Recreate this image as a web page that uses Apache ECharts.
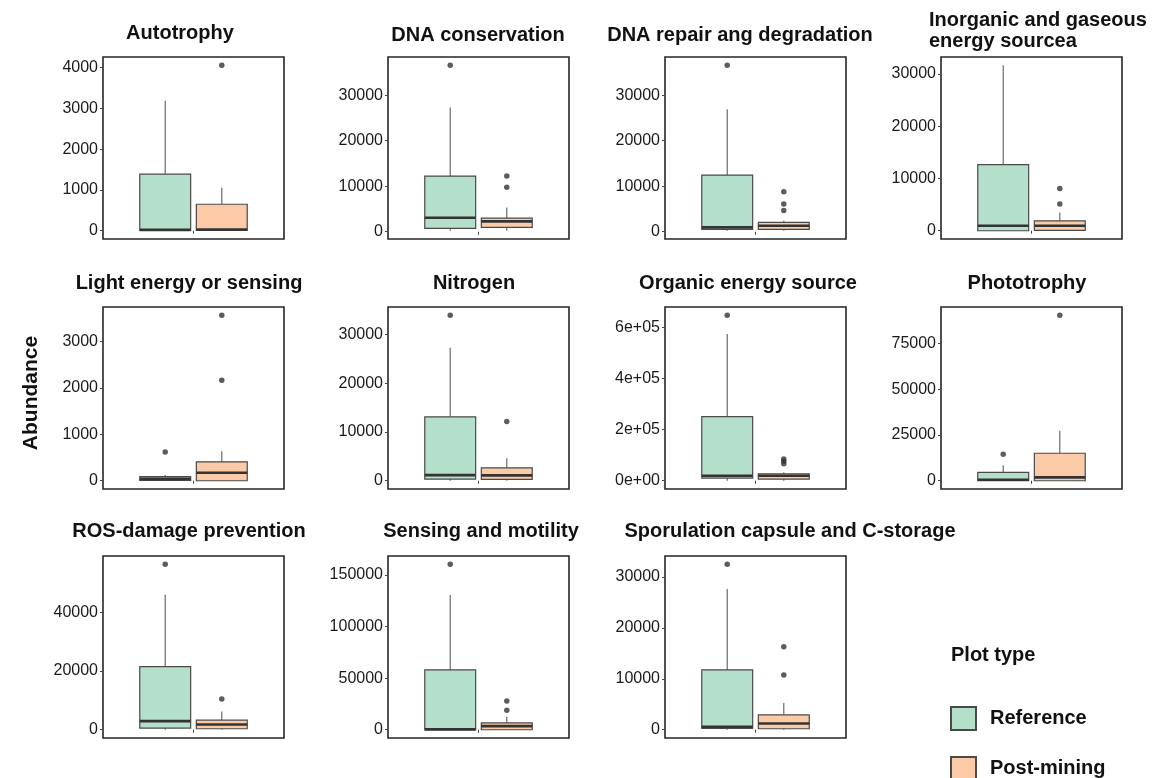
<!DOCTYPE html>
<html>
<head>
<meta charset="utf-8">
<script src="https://cdn.jsdelivr.net/npm/echarts@6/dist/echarts.min.js"></script>
<style>
  html, body { margin: 0; padding: 0; background: #ffffff; }
  #chart { width: 1158px; height: 778px; }
</style>
</head>
<body>
<div id="chart"></div>
<script>
// Functional categories, one panel each
const panelTitles = [
  'Autotrophy', 'DNA conservation', 'DNA repair ang degradation', 'Inorganic and gaseous\nenergy sourcea',
  'Light energy or sensing', 'Nitrogen', 'Organic energy source', 'Phototrophy',
  'ROS-damage prevention', 'Sensing and motility', 'Sporulation capsule and C-storage'
];

// Box statistics per panel: [lower whisker, Q1, median, Q3, upper whisker]
const referenceBoxes = [
  [0, 5, 20, 1387, 3189],
  [220, 730, 3070, 12220, 27290],
  [220, 510, 950, 12440, 26920],
  [0, 0, 950, 12630, 31650],
  [0, 5, 40, 90, 125],
  [0, 340, 1150, 13100, 27290],
  [0, 10300, 19400, 250300, 572900],
  [0, 0, 540, 4520, 8500],
  [0, 560, 2920, 21460, 45960],
  [0, 0, 320, 57900, 130500],
  [0, 260, 580, 11730, 27610]
];
const postMiningBoxes = [
  [0, 5, 30, 649, 1055],
  [220, 950, 2270, 3000, 5340],
  [220, 510, 1320, 2050, 2410],
  [0, 60, 950, 1900, 3470],
  [0, 0, 171, 407, 636],
  [0, 270, 1090, 2650, 4620],
  [0, 6500, 19400, 27100, 33500],
  [0, 0, 1810, 15000, 27300],
  [0, 340, 1800, 3260, 6180],
  [0, 0, 3520, 6720, 12480],
  [0, 190, 1230, 2920, 5250]
];

// Outlying samples per panel
const referenceOutliers = [
  [], [36580], [36580], [], [621], [33940], [646500], [14460], [56290], [160300], [32470]
];
const postMiningOutliers = [
  [4057], [12220, 9800], [8780, 6070, 4680], [8090, 5120], [2171, 3571], [12150],
  [85000, 76000, 66000], [90380], [10450], [27830, 18880], [16270, 10760]
];

// Y-axis tick values per panel
const tickValues = [
  [0, 1000, 2000, 3000, 4000],
  [0, 10000, 20000, 30000],
  [0, 10000, 20000, 30000],
  [0, 10000, 20000, 30000],
  [0, 1000, 2000, 3000],
  [0, 10000, 20000, 30000],
  [0, 200000, 400000, 600000],
  [0, 25000, 50000, 75000],
  [0, 20000, 40000],
  [0, 50000, 100000, 150000],
  [0, 10000, 20000, 30000]
];

const groupNames = ['Reference', 'Post-mining'];

// ---- layout & styling ----
const FONT = "'Liberation Sans', Arial, Helvetica, sans-serif";
const GROUP_COLORS = ['#b3dfcb', '#fbcba8'];
const GROUP_X = [0.8125, 1.1875];   // dodged positions around the single x slot
const BOX_HALF = 0.16875;           // half box width in x units
const colLeft = [103, 388, 665, 941];
const rowTop = [57, 307, 556];
const PANEL_W = 181, PANEL_H = 182;
const titleAnchor = [
  [180, 33, 'center'], [478, 35, 'center'], [740, 35, 'center'], [929, 31, 'left'],
  [189, 283, 'center'], [474, 283, 'center'], [748, 283, 'center'], [1027, 283, 'center'],
  [189, 531, 'center'], [481, 531, 'center'], [790, 531, 'center']
];

function sciFormat(v) {
  if (v === 0) return '0e+00';
  const e = Math.floor(Math.log10(Math.abs(v)));
  const m = v / Math.pow(10, e);
  return m + 'e+' + String(e).padStart(2, '0');
}

function renderBox(params, api) {
  const x = api.value(0);
  const lo = api.value(1), q1 = api.value(2), med = api.value(3), q3 = api.value(4), hi = api.value(5);
  const tl = api.coord([x - BOX_HALF, q3]);
  const br = api.coord([x + BOX_HALF, q1]);
  const cHi = api.coord([x, hi]), cQ3 = api.coord([x, q3]);
  const cQ1 = api.coord([x, q1]), cLo = api.coord([x, lo]);
  const mL = api.coord([x - BOX_HALF, med]), mR = api.coord([x + BOX_HALF, med]);
  return {
    type: 'group',
    children: [
      { type: 'line', shape: { x1: cHi[0], y1: cHi[1], x2: cQ3[0], y2: cQ3[1] },
        style: { stroke: '#6a6a6a', lineWidth: 1.2 } },
      { type: 'line', shape: { x1: cQ1[0], y1: cQ1[1], x2: cLo[0], y2: cLo[1] },
        style: { stroke: '#6a6a6a', lineWidth: 1.2 } },
      { type: 'rect', shape: { x: tl[0], y: tl[1], width: br[0] - tl[0], height: br[1] - tl[1] },
        style: { fill: api.visual('color'), stroke: '#4a4a4a', lineWidth: 1.2 } },
      { type: 'line', shape: { x1: mL[0], y1: mL[1], x2: mR[0], y2: mR[1] },
        style: { stroke: '#333333', lineWidth: 2.6 } }
    ]
  };
}

const grids = [], xAxes = [], yAxes = [], series = [], graphics = [];

panelTitles.forEach((title, i) => {
  const col = i % 4, row = Math.floor(i / 4);
  grids.push({
    left: colLeft[col], top: rowTop[row], width: PANEL_W, height: PANEL_H,
    show: true, borderColor: '#262626', borderWidth: 1.6, backgroundColor: 'transparent'
  });

  const allVals = [].concat(referenceBoxes[i], postMiningBoxes[i], referenceOutliers[i], postMiningOutliers[i]);
  const lo = Math.min.apply(null, allVals), hi = Math.max.apply(null, allVals);
  const pad = (hi - lo) * 0.05;

  xAxes.push({
    gridIndex: i, type: 'value', min: 0.4, max: 1.6,
    axisLine: { show: false }, splitLine: { show: false },
    axisLabel: { show: false },
    axisTick: { show: true, length: 3, customValues: [1], lineStyle: { color: '#444', width: 1 } }
  });
  yAxes.push({
    gridIndex: i, type: 'value', min: lo - pad, max: hi + pad,
    axisLine: { show: false }, splitLine: { show: false },
    axisTick: { show: true, length: 3, customValues: tickValues[i], lineStyle: { color: '#444', width: 1 } },
    axisLabel: {
      customValues: tickValues[i], margin: 5, fontSize: 16, color: '#1a1a1a', fontFamily: FONT,
      formatter: i === 6 ? sciFormat : (v => String(v))
    }
  });

  [referenceBoxes[i], postMiningBoxes[i]].forEach((stats, g) => {
    series.push({
      type: 'custom', name: groupNames[g], xAxisIndex: i, yAxisIndex: i,
      itemStyle: { color: GROUP_COLORS[g], borderColor: '#4a4a4a', borderWidth: 1 },
      renderItem: renderBox,
      encode: { x: 0, y: [1, 2, 3, 4, 5] },
      data: [[GROUP_X[g]].concat(stats)],
      silent: true, z: 2
    });
  });
  [referenceOutliers[i], postMiningOutliers[i]].forEach((outs, g) => {
    if (!outs.length) return;
    series.push({
      type: 'scatter', name: groupNames[g] + ' outliers', xAxisIndex: i, yAxisIndex: i,
      symbol: 'circle', symbolSize: 5.5,
      itemStyle: { color: '#333333' },
      data: outs.map(v => [GROUP_X[g], v]),
      silent: true, z: 3
    });
  });

  const a = titleAnchor[i];
  graphics.push({
    type: 'text', x: a[0], y: a[1],
    style: {
      text: title, font: 'bold 20px ' + FONT, fill: '#111111',
      textAlign: a[2], textVerticalAlign: 'middle', lineHeight: 21
    }
  });
});

graphics.push({
  type: 'text', x: 31, y: 393, rotation: Math.PI / 2,
  style: { text: 'Abundance', font: 'bold 21px ' + FONT, fill: '#111111',
           textAlign: 'center', textVerticalAlign: 'middle' }
});
graphics.push({
  type: 'text', x: 951, y: 655,
  style: { text: 'Plot type', font: 'bold 20px ' + FONT, fill: '#111111',
           textAlign: 'left', textVerticalAlign: 'middle' }
});

const chart = echarts.init(document.getElementById('chart'), null, { renderer: 'canvas' });
chart.setOption({
  animation: false,
  backgroundColor: '#ffffff',
  grid: grids,
  xAxis: xAxes,
  yAxis: yAxes,
  series: series,
  graphic: graphics,
  legend: {
    data: groupNames.map(n => ({ name: n, icon: 'rect' })),
    orient: 'vertical', left: 950, top: 706, width: 200, height: 120, padding: 0,
    itemWidth: 25, itemHeight: 23, itemGap: 25,
    selectedMode: false,
    textStyle: { fontSize: 20, fontWeight: 'bold', color: '#111111', fontFamily: FONT, padding: [0, 0, 0, 9] }
  }
});
</script>
</body>
</html>
